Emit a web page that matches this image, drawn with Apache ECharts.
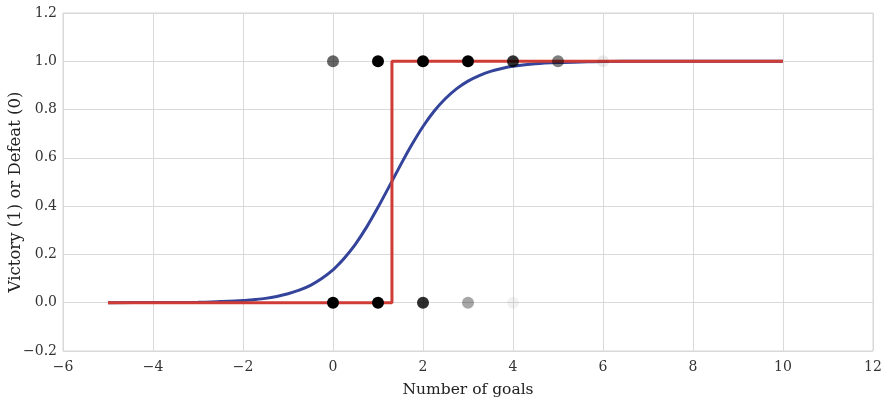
<!DOCTYPE html>
<html>
<head>
<meta charset="utf-8">
<script src="https://cdn.jsdelivr.net/npm/echarts@6/dist/echarts.min.js"></script>
<style>html,body{margin:0;padding:0;background:#fff}#c{width:887px;height:403px}</style>
</head>
<body>
<div id="c"></div>
<script>
// Observed games: goals scored, outcome (1 victory / 0 defeat), darkness of stacked dots
const pointGoals   = [0, 1, 2, 3, 4, 5, 6, 0, 1, 2, 3, 4];
const pointOutcome = [1, 1, 1, 1, 1, 1, 1, 0, 0, 0, 0, 0];
const pointAlpha   = [0.6, 1, 1, 1, 0.8, 0.5, 0.08, 1, 1, 0.82, 0.35, 0.05];

// Logistic fit curve
const curveX = [-5, -4, -3, -2.5, -2, -1.75, -1.5, -1.25, -1, -0.75, -0.5, -0.25, 0, 0.125, 0.25, 0.5, 0.75, 1, 1.25, 1.5, 1.75, 2, 2.25, 2.5, 2.75, 3, 3.25, 3.5, 3.75, 4, 4.5, 5, 5.5, 6, 7, 8, 9, 10];
const curveY = [0.000, 0.001, 0.002, 0.005, 0.009, 0.013, 0.018, 0.026, 0.037, 0.052, 0.072, 0.100, 0.136, 0.159, 0.184, 0.243, 0.314, 0.395, 0.482, 0.570, 0.654, 0.730, 0.794, 0.846, 0.887, 0.918, 0.941, 0.958, 0.970, 0.979, 0.990, 0.995, 0.997, 0.999, 1.0, 1.0, 1.0, 1.0];

// Step (threshold) classifier
const stepX = [-5, 1.31, 1.31, 10];
const stepY = [0, 0, 1, 1];

const xTicks = [-6, -4, -2, 0, 2, 4, 6, 8, 10, 12];
const yTicks = [-0.2, 0.0, 0.2, 0.4, 0.6, 0.8, 1.0, 1.2];

const font = '"DejaVu Serif", "Liberation Serif", serif';
const minus = s => String(s).replace('-', '\u2212');

const chart = echarts.init(document.getElementById('c'), null, {renderer: 'canvas'});
chart.setOption({
  animation: false,
  backgroundColor: '#fff',
  grid: {left: 63, right: 14, top: 13, bottom: 52, containLabel: false, outerBoundsMode: 'none',
         show: true, borderColor: '#d6d6d6', borderWidth: 1},
  xAxis: {
    type: 'value', min: xTicks[0], max: xTicks[xTicks.length - 1], interval: 2,
    name: 'Number of goals', nameLocation: 'middle', nameGap: 31, nameMoveOverlap: false,
    nameTextStyle: {fontFamily: font, fontSize: 15.5, color: '#222'},
    axisLine: {show: false}, axisTick: {show: false},
    axisLabel: {fontFamily: font, fontSize: 14, color: '#333', margin: 9, formatter: v => minus(v)},
    splitLine: {lineStyle: {color: '#d9d9d9', width: 1}}
  },
  yAxis: {
    type: 'value', min: yTicks[0], max: yTicks[yTicks.length - 1], interval: 0.2,
    name: 'Victory (1) or Defeat (0)', nameLocation: 'middle', nameGap: 39, nameRotate: 90, nameMoveOverlap: false,
    nameTextStyle: {fontFamily: font, fontSize: 16.5, color: '#222', padding: [0, 20, 0, 0]},
    axisLine: {show: false}, axisTick: {show: false},
    axisLabel: {fontFamily: font, fontSize: 14, color: '#333', margin: 6, formatter: v => minus(v.toFixed(1))},
    splitLine: {lineStyle: {color: '#d9d9d9', width: 1}}
  },
  series: [
    {
      type: 'line', data: curveX.map((x, i) => [x, curveY[i]]), smooth: 0.3, showSymbol: false,
      lineStyle: {color: '#34449a', width: 3}, z: 2
    },
    {
      type: 'line', data: stepX.map((x, i) => [x, stepY[i]]), showSymbol: false,
      lineStyle: {color: '#cf3b35', width: 3}, z: 3
    },
    {
      type: 'scatter', symbolSize: 12, z: 4,
      data: pointGoals.map((g, i) => ({value: [g, pointOutcome[i]], itemStyle: {color: '#000', opacity: pointAlpha[i]}}))
    }
  ]
});
</script>
</body>
</html>
